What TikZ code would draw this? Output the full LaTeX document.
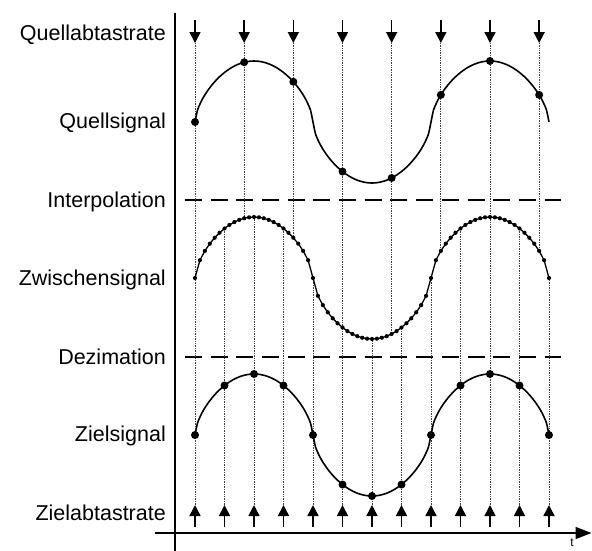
\documentclass[tikz,border=0pt]{standalone}
\usepackage{fontspec}
\setmainfont{Liberation Sans}
\usetikzlibrary{arrows.meta}
\begin{document}
\begin{tikzpicture}[x=1pt,y=-1pt,
  declare function={sq(\u)=sin(15*\u)/((abs(sin(15*\u))+0.0001)^0.4); xp(\u)=195+9.8333*\u;},
  lbl/.style={anchor=base east, font=\fontsize{21.5}{24}\selectfont, inner sep=0pt},
  axisline/.style={line width=1.5pt},
  sigcurve/.style={line width=1.6pt},
  grid/.style={densely dotted, line width=0.7pt, black!75},
  samplearrow/.style={line width=1.6pt, -{Triangle[length=11pt,width=11pt]}},
  dashline/.style={line width=2pt, dash pattern=on 17pt off 8.7pt},
  bigdot/.style={fill=black},
]
\useasboundingbox (0,0) rectangle (592,550);

% labels
\node[lbl] (l1) at (166,40.7) {Quellabtastrate};
\node[lbl] (l2) at (166,128.5) {Quellsignal};
\node[lbl] (l3) at (166,207) {Interpolation};
\node[lbl] (l4) at (166,285) {Zwischensignal};
\node[lbl] (l5) at (166,364) {Dezimation};
\node[lbl] (l6) at (166,441.7) {Zielsignal};
\node[lbl] (l7) at (166,520.7) {Zielabtastrate};

% axes
\coordinate (ytop) at (175,12.7);
\coordinate (ybot) at (175,552);
\coordinate (xl) at (155,533);
\coordinate (xr) at (591.5,533);
\draw[axisline] (ytop) -- (ybot);
\draw[axisline, -{Triangle[length=16pt,width=12pt]}] (xl) -- (xr);
\node[anchor=base, font=\fontsize{12}{14}\selectfont, inner sep=0pt] (t) at (572,546.5) {t};

% dashed separators
\draw[dashline] (184.8,200) -- (561,200);
\draw[dashline] (184.8,357) -- (561,357);

% source sampling: arrows and dotted lines down to the intermediate signal
\foreach \k in {0,...,7} {
  \pgfmathsetmacro\u{5*\k}
  \pgfmathsetmacro\xx{xp(\u)}
  \pgfmathsetmacro\ym{278-61*sq(\u)}
  \coordinate (sa\k) at (\xx,20);
  \coordinate (sb\k) at (\xx,43);
  \coordinate (sm\k) at (\xx,\ym);
  \draw[grid] (sb\k) -- (sm\k);
  \draw[samplearrow] (sa\k) -- (sb\k);
}

% target sampling: arrows and dotted lines up to the intermediate signal
\foreach \k in {0,...,12} {
  \pgfmathsetmacro\u{3*\k}
  \pgfmathsetmacro\xx{xp(\u)}
  \pgfmathsetmacro\ym{278-61*sq(\u)}
  \coordinate (ta\k) at (\xx,527);
  \coordinate (tb\k) at (\xx,505);
  \coordinate (tm\k) at (\xx,\ym);
  \draw[grid] (tb\k) -- (tm\k);
  \draw[samplearrow] (ta\k) -- (tb\k);
}

% source signal
\draw[sigcurve] plot[domain=0:36, samples=145, smooth] ({xp(\x)},{122-61*sq(\x)});
\foreach \k in {0,...,7} {
  \pgfmathsetmacro\u{5*\k}
  \fill[bigdot] ({xp(\u)},{122-61*sq(\u)}) circle (4);
}

% intermediate signal
\draw[line width=1.3pt] plot[domain=0:36, samples=73] ({xp(\x)},{278-61*sq(\x)});
\foreach \i in {0,...,72} {
  \pgfmathsetmacro\u{\i/2}
  \fill[bigdot] ({xp(\u)},{278-61*sq(\u)}) circle (2.1);
}

% target signal
\draw[sigcurve] plot[domain=0:36, samples=145, smooth] ({xp(\x)},{435-61*sq(\x)});
\foreach \k in {0,...,12} {
  \pgfmathsetmacro\u{3*\k}
  \fill[bigdot] ({xp(\u)},{435-61*sq(\u)}) circle (4);
}
\end{tikzpicture}
\end{document}
